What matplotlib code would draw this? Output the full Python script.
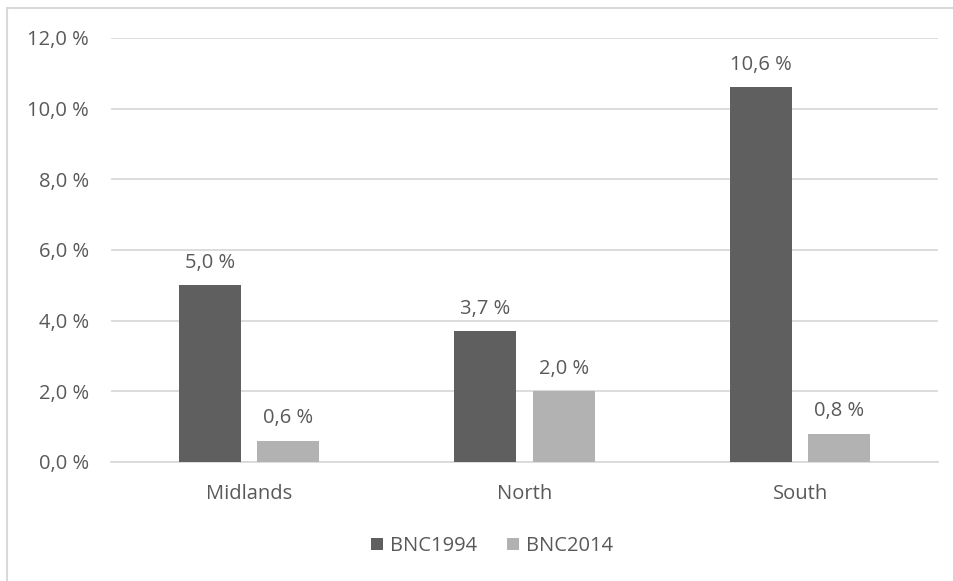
import matplotlib
matplotlib.use("Agg")
import matplotlib.pyplot as plt
from matplotlib.patches import Rectangle
from matplotlib.ticker import FuncFormatter
import numpy as np

regions = ["Midlands", "North", "South"]
bnc1994 = [5.0, 3.7, 10.6]
bnc2014 = [0.6, 2.0, 0.8]
series_names = ["BNC1994", "BNC2014"]
y_ticks = [0, 2, 4, 6, 8, 10, 12]

plt.rcParams["font.family"] = ["Open Sans", "DejaVu Sans"]
text_color = "#595959"
dark = "#5f5f5f"
light = "#b2b2b2"
fs = 14.5

W, H = 954, 581
fig = plt.figure(figsize=(W / 100, H / 100), dpi=100)
fig.patch.set_facecolor("white")

# chart frame (open at right/bottom edge)
fig.add_artist(Rectangle((7 / W, -0.05), 1.2, 1 - 8 / H + 0.05,
                         transform=fig.transFigure, fill=False,
                         edgecolor="#d9d9d9", linewidth=1.5))

ax = fig.add_axes([111 / W, 1 - 462 / H, (938 - 111) / W, (462 - 38) / H])
x = np.arange(len(regions))
w = 0.225
off = 0.142

b1 = ax.bar(x - off, bnc1994, w, color=dark, label=series_names[0], zorder=3)
b2 = ax.bar(x + off, bnc2014, w, color=light, label=series_names[1], zorder=3)

def fmt(v):
    return f"{v:.1f}".replace(".", ",") + " %"

for bars, vals in ((b1, bnc1994), (b2, bnc2014)):
    for r, v in zip(bars, vals):
        ax.annotate(fmt(v), (r.get_x() + r.get_width() / 2, v),
                    xytext=(0, 9), textcoords="offset points",
                    ha="center", va="bottom", fontsize=fs, color=text_color)

ax.set_xlim(-0.5, 2.5)
ax.set_ylim(0, 12)
ax.set_yticks(y_ticks)
ax.yaxis.set_major_formatter(FuncFormatter(lambda v, p: fmt(v)))
ax.set_xticks(x)
ax.set_xticklabels(regions)
ax.tick_params(axis="both", length=0, labelsize=fs, colors=text_color)
ax.tick_params(axis="y", pad=16)
ax.tick_params(axis="x", pad=16)
ax.grid(axis="y", color="#d9d9d9", linewidth=1.3, zorder=0)
for s in ("top", "right", "left"):
    ax.spines[s].set_visible(False)
ax.spines["bottom"].set_color("#d9d9d9")
ax.spines["bottom"].set_linewidth(1.3)

leg = fig.legend(handles=[b1, b2], labels=series_names, loc="center",
                 bbox_to_anchor=(492 / W, 1 - 546 / H), ncol=2, frameon=False,
                 fontsize=fs, handlelength=0.6, handleheight=0.6,
                 handletextpad=0.35, columnspacing=1.5)
for t in leg.get_texts():
    t.set_color(text_color)

fig.savefig("out.png", dpi=100, facecolor="white")
